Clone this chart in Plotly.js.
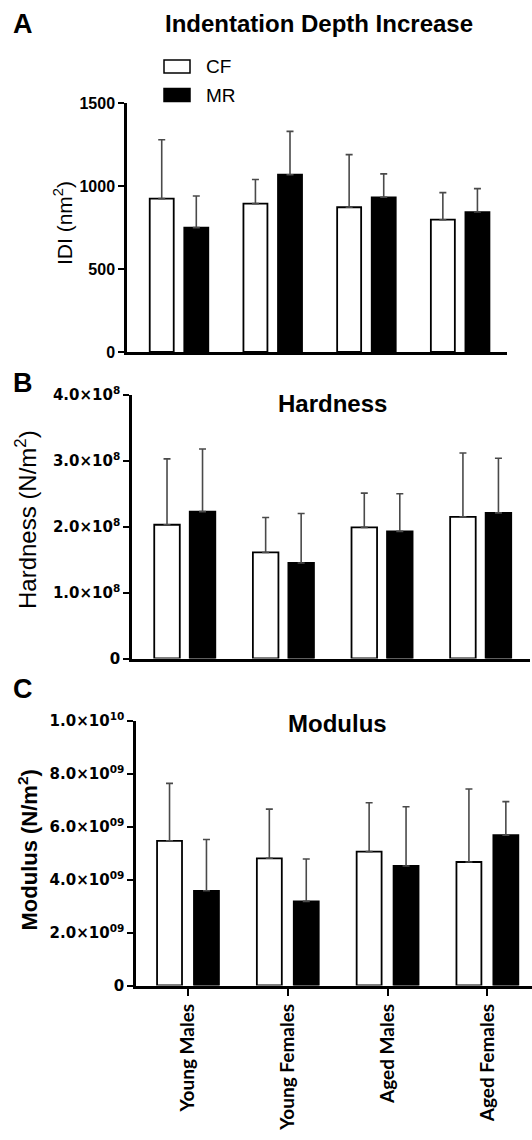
<!DOCTYPE html>
<html>
<head>
<meta charset="utf-8">
<script src="https://cdn.plot.ly/plotly-3.0.1.min.js"></script>
<style>html,body{margin:0;padding:0;background:#fff}#chart{width:532px;height:1140px}</style>
</head>
<body>
<div id="chart"></div>
<script>
// ---------- data ----------
const categories = ['Young Males', 'Young Females', 'Aged Males', 'Aged Females'];
const seriesNames = ['CF', 'MR'];

// Indentation depth increase (nm^2)
const idiCF   = [924, 894, 872, 797];
const idiCFsd = [355, 145, 317, 163];
const idiMR   = [749, 1068, 932, 843];
const idiMRsd = [191, 261, 141, 141];

// Hardness (N/m^2)
const hardCF   = [2.03e8, 1.61e8, 1.99e8, 2.15e8];
const hardCFsd = [1.00e8, 0.53e8, 0.52e8, 0.97e8];
const hardMR   = [2.23e8, 1.45e8, 1.93e8, 2.21e8];
const hardMRsd = [0.95e8, 0.75e8, 0.57e8, 0.83e8];

// Modulus (N/m^2)
const modCF   = [5.47e9, 4.81e9, 5.06e9, 4.67e9];
const modCFsd = [2.17e9, 1.86e9, 1.85e9, 2.76e9];
const modMR   = [3.58e9, 3.18e9, 4.52e9, 5.68e9];
const modMRsd = [1.94e9, 1.60e9, 2.24e9, 1.27e9];

// tick values / labels
const idiTickVals  = [0, 500, 1000, 1500];
const idiTickText  = ['0', '500', '1000', '1500'];
const hardTickVals = [0, 1e8, 2e8, 3e8, 4e8];
const hardTickText = ['0', '1.0×10<sup>8</sup>', '2.0×10<sup>8</sup>', '3.0×10<sup>8</sup>', '4.0×10<sup>8</sup>'];
const modTickVals  = [0, 2e9, 4e9, 6e9, 8e9, 1e10];
const modTickText  = ['0', '2.0×10<sup>09</sup>', '4.0×10<sup>09</sup>', '6.0×10<sup>09</sup>', '8.0×10<sup>09</sup>', '1.0×10<sup>10</sup>'];

// ---------- layout helpers ----------
const W = 532, H = 1140;
const px = v => v / W;
const py = v => 1 - v / H;
const bold = s => '<b>' + s + '</b>';

const panels = [
  {xa: 'x',  ya: 'y',  cf: idiCF,  cfsd: idiCFsd,  mr: idiMR,  mrsd: idiMRsd,  w: 0.256, gap: 0.113},
  {xa: 'x2', ya: 'y2', cf: hardCF, cfsd: hardCFsd, mr: hardMR, mrsd: hardMRsd, w: 0.259, gap: 0.101},
  {xa: 'x3', ya: 'y3', cf: modCF,  cfsd: modCFsd,  mr: modMR,  mrsd: modMRsd,  w: 0.250, gap: 0.120}
];

const errColor = '#4a4a4a';
const traces = [];
panels.forEach(p => {
  const mk = (name, y, sd, fill, off) => ({
    type: 'bar', name: name, x: categories, y: y,
    xaxis: p.xa, yaxis: p.ya,
    width: p.w, offset: off,
    showlegend: false,
    marker: {color: fill, line: {color: '#000', width: 1.8}},
    error_y: {type: 'data', symmetric: false, array: sd, arrayminus: sd.map(() => 0),
              color: errColor, thickness: 1.6, width: 3.5},
    hoverinfo: 'skip'
  });
  traces.push(mk(seriesNames[0], p.cf, p.cfsd, '#ffffff', -(p.w + p.gap / 2)));
  traces.push(mk(seriesNames[1], p.mr, p.mrsd, '#000000', p.gap / 2));
});

const tickFont = (fam, size) => ({family: fam, size: size, color: '#000'});
const baseX = {type: 'category', showline: true, linecolor: '#000', linewidth: 2.5, showgrid: false, zeroline: false,
               ticks: '', showticklabels: false, fixedrange: true};
const baseY = {showline: true, linecolor: '#000', linewidth: 2.5, showgrid: false, zeroline: false,
               ticks: 'outside', ticklen: 6, tickwidth: 2, tickcolor: '#000', tickmode: 'array', fixedrange: true};

const ann = (text, x, y, size, extra) => Object.assign({
  text: text, x: px(x), y: py(y), xref: 'paper', yref: 'paper', showarrow: false,
  xanchor: 'center', yanchor: 'middle', font: {size: size, color: '#000'}
}, extra || {});

// legend swatches (styling only, in paper space)
const legendShapes = [
  {type: 'rect', xref: 'paper', yref: 'paper', x0: px(164), x1: px(190), y0: py(73), y1: py(60),
   fillcolor: '#fff', line: {color: '#000', width: 1.5}},
  {type: 'rect', xref: 'paper', yref: 'paper', x0: px(164), x1: px(190), y0: py(101.5), y1: py(88.5),
   fillcolor: '#000', line: {color: '#000', width: 1.5}}
];

const layout = {
  width: W, height: H,
  margin: {l: 0, r: 0, t: 0, b: 0},
  paper_bgcolor: '#fff', plot_bgcolor: '#fff',
  font: {family: 'Liberation Sans, Arial, sans-serif', color: '#000'},
  barmode: 'overlay',
  showlegend: false,
  title: {text: bold('Indentation Depth Increase'), x: px(319), xanchor: 'center', y: py(23.5), yanchor: 'middle',
          font: {size: 24, color: '#000'}},
  xaxis:  Object.assign({}, baseX, {domain: [px(127), px(507)], range: [-0.555, 3.50], anchor: 'y'}),
  yaxis:  Object.assign({}, baseY, {domain: [py(352), py(103)], range: [0, 1500], anchor: 'x',
          tickvals: idiTickVals, ticktext: idiTickText.map(bold), tickfont: tickFont('Liberation Sans, Arial', 16)}),
  xaxis2: Object.assign({}, baseX, {domain: [px(132), px(530)], range: [-0.535, 3.50], anchor: 'y2'}),
  yaxis2: Object.assign({}, baseY, {domain: [py(658.5), py(395)], range: [0, 4e8], anchor: 'x2',
          tickvals: hardTickVals, ticktext: hardTickText.map(bold), tickfont: tickFont('DejaVu Sans', 15)}),
  xaxis3: Object.assign({}, baseX, {domain: [px(136), px(532)], range: [-0.521, 3.447], anchor: 'y3',
          ticks: 'outside', ticklen: 8, tickwidth: 2, tickcolor: '#000', showticklabels: true, tickangle: -90,
          tickmode: 'array', tickvals: categories, ticktext: categories.map(bold),
          tickfont: tickFont('Lato, Liberation Sans, sans-serif', 19)}),
  yaxis3: Object.assign({}, baseY, {domain: [py(985.5), py(721)], range: [0, 1e10], anchor: 'x3',
          tickvals: modTickVals, ticktext: modTickText.map(bold), tickfont: tickFont('DejaVu Sans', 15)}),
  shapes: legendShapes,
  annotations: [
    ann(seriesNames[0], 204, 66.5, 19, {xanchor: 'left'}),
    ann(seriesNames[1], 204, 95, 19, {xanchor: 'left'}),
    ann(bold('A'), 23, 24, 27),
    ann(bold('B'), 23, 382.5, 27),
    ann(bold('C'), 23, 689, 27),
    ann(bold('Hardness'), 332, 403.5, 24),
    ann(bold('Modulus'), 337, 723, 24),
    ann('IDI (nm<sup>2</sup>)', 63, 223, 21, {textangle: -90}),
    ann('Hardness (N/m<sup>2</sup>)', 26, 520, 24, {textangle: -90}),
    ann(bold('Modulus (N/m<sup>2</sup>)'), 27.5, 850, 22, {textangle: -90})
  ]
};

Plotly.newPlot('chart', traces, layout, {displayModeBar: false});
</script>
</body>
</html>
